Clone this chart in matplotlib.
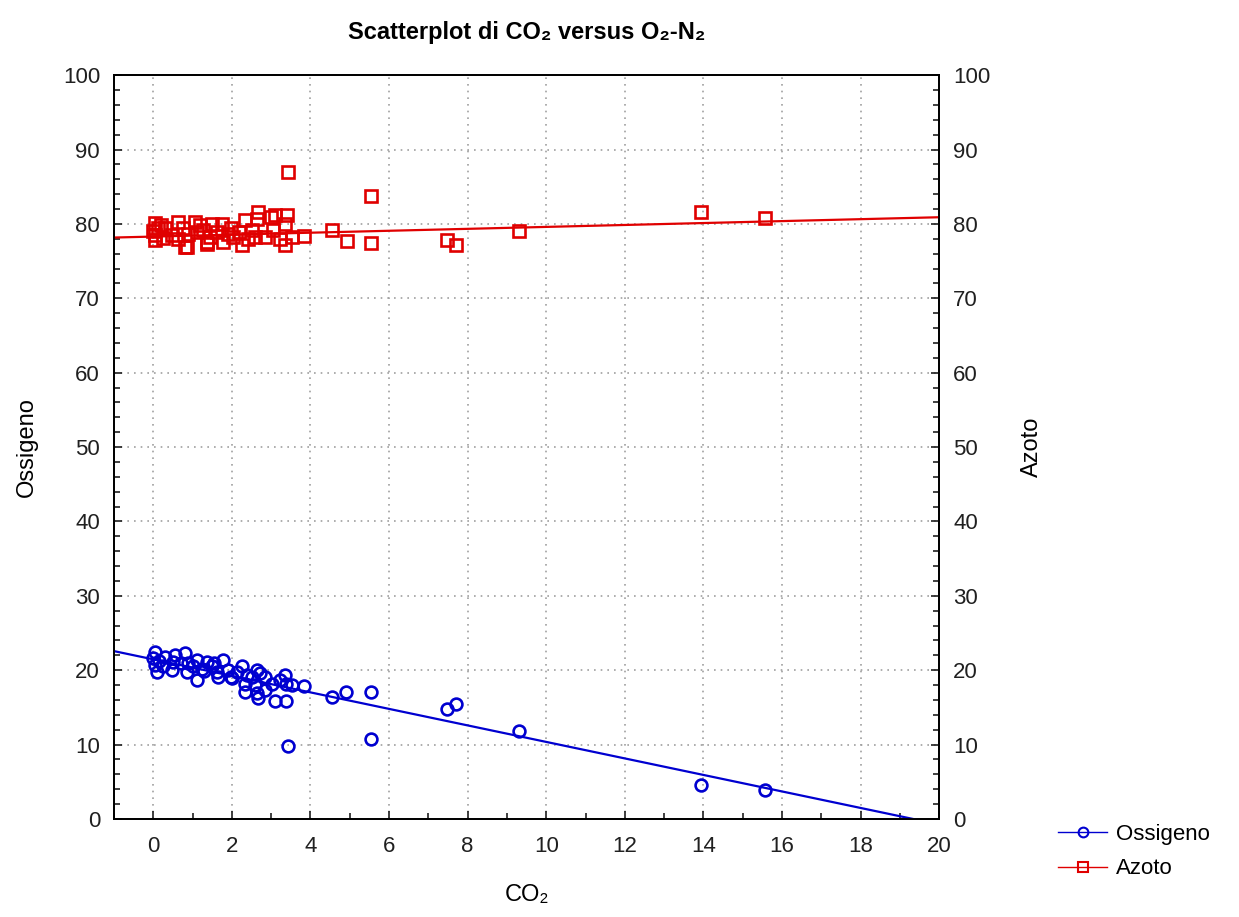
import numpy as np
import matplotlib
matplotlib.use("Agg")
import matplotlib.pyplot as plt
from matplotlib.ticker import MultipleLocator

plt.rcParams['font.family'] = ['Liberation Sans', 'DejaVu Sans']

# CO2 vs oxygen (Ossigeno)
co2_o = [0.0, 0.04, 0.04, 0.09, 0.25, 0.3, 0.47, 0.51, 0.55, 0.81, 0.85, 0.89,
         1.1, 1.1, 1.23, 1.36, 1.49, 1.61, 1.65, 1.78, 1.91, 1.99, 2.12, 2.25,
         2.33, 2.33, 2.38, 2.5, 2.59, 2.63, 2.63, 2.67, 2.72, 2.84, 2.84, 3.01,
         3.1, 3.22, 3.35, 3.39, 3.39, 3.52, 0.15, 0.7, 1.0, 1.3, 1.55, 2.0,
         3.44, 3.84, 4.54, 4.9, 5.54, 5.54, 7.48, 7.7, 9.31, 13.93, 15.57]
oss = [21.6, 22.5, 20.7, 19.8, 20.5, 21.8, 20.0, 21.1, 22.0, 22.3, 19.8, 20.9,
       18.7, 21.4, 20.2, 21.1, 20.5, 19.8, 19.1, 21.4, 20.0, 19.1, 19.8, 20.5,
       18.2, 17.1, 19.4, 19.1, 18.0, 16.9, 20.0, 16.2, 19.6, 19.1, 17.3, 18.2,
       15.8, 18.7, 19.4, 18.2, 15.8, 18.0, 21.2, 21.0, 20.6, 19.9, 20.9, 18.9,
       9.8, 17.9, 16.4, 17.1, 17.1, 10.8, 14.8, 15.5, 11.8, 4.6, 3.9]

# CO2 vs nitrogen (Azoto)
co2_n = [0.04, 0.13, 0.04, 0.04, 0.3, 0.25, 0.64, 0.76, 0.47, 0.64, 0.85, 1.06,
         1.1, 0.89, 1.27, 1.49, 1.61, 1.44, 1.36, 1.74, 1.78, 1.99, 2.04, 2.25,
         2.33, 2.67, 2.63, 2.5, 2.59, 2.42, 2.17, 2.84, 3.1, 3.41, 3.35, 3.05,
         3.22, 3.35, 3.52, 0.81, 1.36, 0.0, 0.2, 1.2, 1.9, 3.0,
         3.44, 3.84, 4.56, 4.92, 5.54, 5.54, 7.48, 7.7, 9.31, 13.93, 15.57]
azoto = [80.1, 79.4, 78.5, 77.8, 79.4, 78.1, 80.3, 79.4, 78.5, 78.0, 76.9, 80.3,
         78.9, 78.7, 79.2, 80.0, 78.9, 78.2, 77.6, 80.0, 77.6, 79.4, 78.2, 77.2,
         80.5, 81.6, 80.7, 79.2, 78.2, 78.0, 78.9, 78.2, 81.2, 81.2, 80.0, 79.2,
         78.0, 77.2, 78.2, 76.9, 77.3, 79.0, 79.8, 79.8, 78.6, 80.9,
         87.0, 78.4, 79.2, 77.7, 83.7, 77.5, 77.8, 77.2, 79.0, 81.6, 80.8]

# linear fits (intercept, slope)
fit_o = (21.45, -1.11)
fit_n = (78.3, 0.13)

x_lim = (-1, 20)
y_lim = (0, 100)

fig = plt.figure(figsize=(12.39, 9.17), dpi=100)
ax = fig.add_axes([0.092, 0.107, 0.666, 0.811])
ax2 = ax.twinx()

xs = np.linspace(x_lim[0], x_lim[1], 200)
blue = '#0000d0'
red = '#e00000'

ax.plot(xs, fit_o[0] + fit_o[1] * xs, color=blue, lw=1.6, zorder=3)
ax.plot(xs, fit_n[0] + fit_n[1] * xs, color=red, lw=1.6, zorder=3)
ax.plot(co2_o, oss, 'o', ms=8.5, mfc='none', mec=blue, mew=1.9, zorder=4)
ax.plot(co2_n, azoto, 's', ms=8.5, mfc='none', mec=red, mew=1.9, zorder=4)

# legend entries drawn as line+marker
ax.plot([], [], color=blue, lw=1, marker='o', ms=7, mfc='none', mew=1.5,
        label='Ossigeno')
ax.plot([], [], color=red, lw=1, marker='s', ms=7, mfc='none', mew=1.5,
        label='Azoto')
leg = ax.legend(loc='upper left', bbox_to_anchor=(1.12, 0.02), frameon=False,
                fontsize=16, handlelength=2.2, handletextpad=0.4, labelspacing=0.6)

for a in (ax, ax2):
    a.set_xlim(*x_lim)
    a.set_ylim(*y_lim)
    a.yaxis.set_major_locator(MultipleLocator(10))
    a.yaxis.set_minor_locator(MultipleLocator(2))
    a.tick_params(which='both', direction='in', labelsize=16, colors='#202020')
    a.tick_params(which='major', length=6, width=1.2)
    a.tick_params(which='minor', length=4, width=1.2)
    for s in a.spines.values():
        s.set_linewidth(1.3)

ax.xaxis.set_major_locator(MultipleLocator(2))
ax.xaxis.set_minor_locator(MultipleLocator(1))
ax.tick_params(axis='x', which='both', top=False, pad=12)
ax.tick_params(axis='y', pad=10)
ax2.tick_params(axis='y', pad=10)

ax.grid(True, which='major', color='#a0a0a0', linestyle=(0, (1, 3)), lw=1.2)
ax.set_axisbelow(True)

ax.set_xlabel('CO₂', fontsize=17, labelpad=20)
ax.set_ylabel('Ossigeno', fontsize=17, labelpad=18)
ax2.set_ylabel('Azoto', fontsize=17, labelpad=22)
ax.set_title('Scatterplot di CO₂ versus O₂-N₂', fontsize=17, fontweight='bold',
             pad=26)

fig.savefig('out.png', dpi=100, facecolor='white')
